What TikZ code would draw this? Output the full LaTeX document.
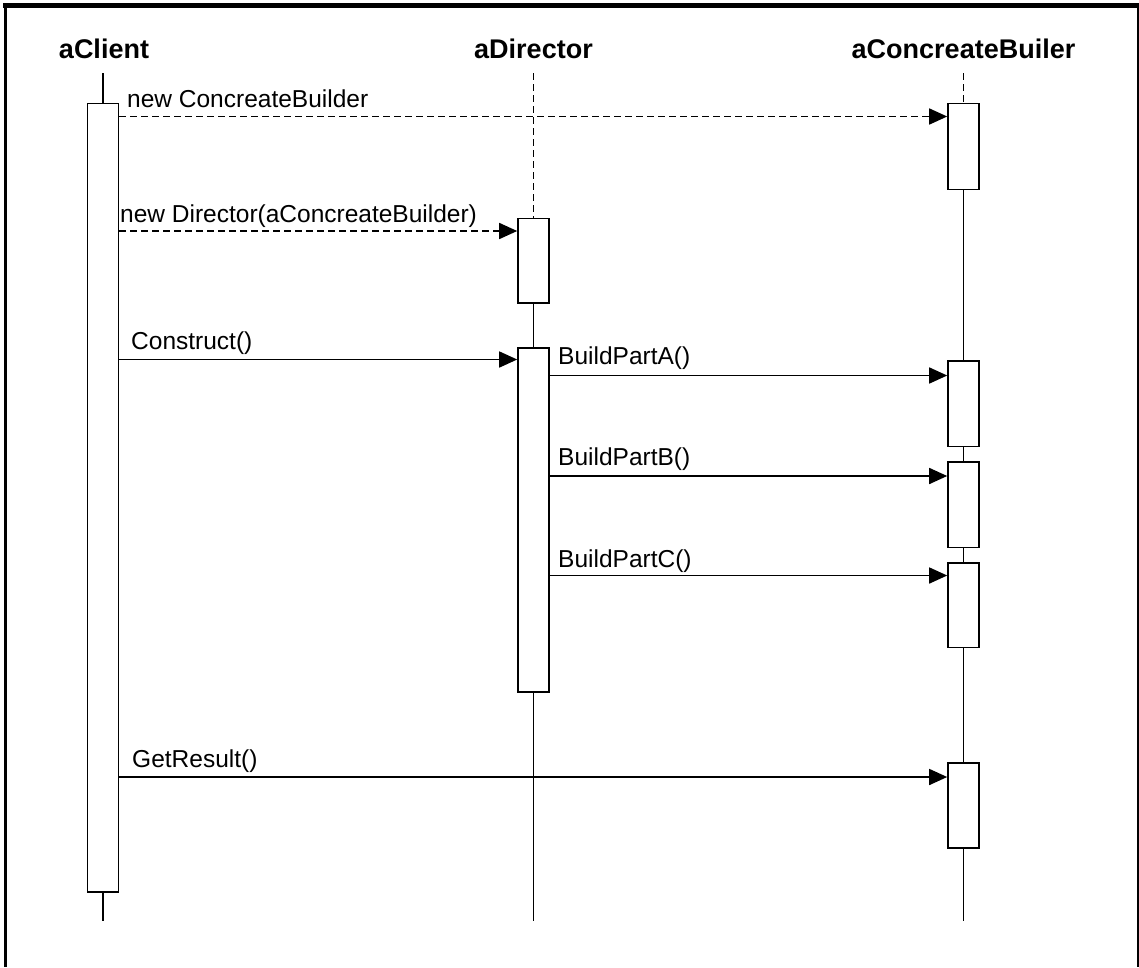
\documentclass[tikz,border=0pt]{standalone}
\usepackage{fontspec}
\setmainfont{Liberation Sans}
\usetikzlibrary{arrows.meta}
\begin{document}
\begin{tikzpicture}[x=1pt,y=-1pt,
 act/.style={draw, fill=white, line width=1.6pt, minimum width=31pt, inner sep=0pt, anchor=north},
 life/.style={line width=1.5pt},
 lifedash/.style={line width=1.5pt, dash pattern=on 7pt off 4pt},
 msg/.style={line width=1.6pt, -{Triangle[length=18pt,width=16pt]}},
 msgdash/.style={msg, dash pattern=on 7pt off 4pt},
 title/.style={font=\fontsize{27}{30}\selectfont\bfseries, anchor=base, inner sep=0pt},
 lbl/.style={font=\fontsize{24.5}{26}\selectfont, anchor=base west, inner sep=0pt}]
\useasboundingbox (0,0) rectangle (1139,967);
% frame
\draw[line width=5pt] (3,5) -- (1139,5);
\draw[line width=3pt] (5.5,3) -- (5.5,967);
\draw[line width=2pt] (1137.5,3) -- (1137.5,967);
% titles
\node[title] (tc) at (104,58) {aClient};
\node[title] (td) at (533.5,58) {aDirector};
\node[title] (tb) at (963.5,58) {aConcreateBuiler};
% lifeline ends
\coordinate (c0) at (103,73);
\coordinate (c1) at (103,921);
\coordinate (d0) at (533.5,73);
\coordinate (d9) at (533.5,921);
\coordinate (b9s) at (963.5,73);
\coordinate (b9) at (963.5,921);
% activation boxes
\path
 node[act, minimum height=788.5pt] (cl) at (103,102.5) {}
 node[act, minimum height=84.5pt] (d1) at (533.5,217.5) {}
 node[act, minimum height=344pt] (d2) at (533.5,347) {}
 node[act, minimum height=86pt] (b0) at (963.5,102.5) {}
 node[act, minimum height=85.5pt] (bA) at (963.5,360) {}
 node[act, minimum height=85.5pt] (bB) at (963.5,461) {}
 node[act, minimum height=84.5pt] (bC) at (963.5,562) {}
 node[act, minimum height=85pt] (bR) at (963.5,762) {};
% lifelines
\draw[life] (c0) -- (cl.north);
\draw[life] (cl.south) -- (c1);
\draw[lifedash] (d0) -- (d1.north);
\draw[life] (d1.south) -- (d2.north);
\draw[life] (d2.south) -- (d9);
\draw[lifedash] (b9s) -- (b0.north);
\draw[life] (b0.south) -- (bA.north);
\draw[life] (bA.south) -- (bB.north);
\draw[life] (bB.south) -- (bC.north);
\draw[life] (bC.south) -- (bR.north);
\draw[life] (bR.south) -- (b9);
% messages
\draw[msgdash] (cl.east |- 0,116.5) -- (b0.west |- 0,116.5);
\draw[msgdash] (cl.east |- 0,231) -- (d1.west |- 0,231);
\draw[msg] (cl.east |- 0,359.5) -- (d2.west |- 0,359.5);
\draw[msg] (d2.east |- 0,375.5) -- (bA.west |- 0,375.5);
\draw[msg] (d2.east |- 0,476) -- (bB.west |- 0,476);
\draw[msg] (d2.east |- 0,575.5) -- (bC.west |- 0,575.5);
\draw[msg] (cl.east |- 0,777) -- (bR.west |- 0,777);
% labels
\node[lbl] (m1) at (127,107) {new ConcreateBuilder};
\node[lbl] (m2) at (120,222) {new Director(aConcreateBuilder)};
\node[lbl] (m3) at (131,349) {Construct()};
\node[lbl] (m4) at (558,364) {BuildPartA()};
\node[lbl] (m5) at (558,465) {BuildPartB()};
\node[lbl] (m6) at (558,567) {BuildPartC()};
\node[lbl] (m7) at (132,767) {GetResult()};
\end{tikzpicture}
\end{document}
